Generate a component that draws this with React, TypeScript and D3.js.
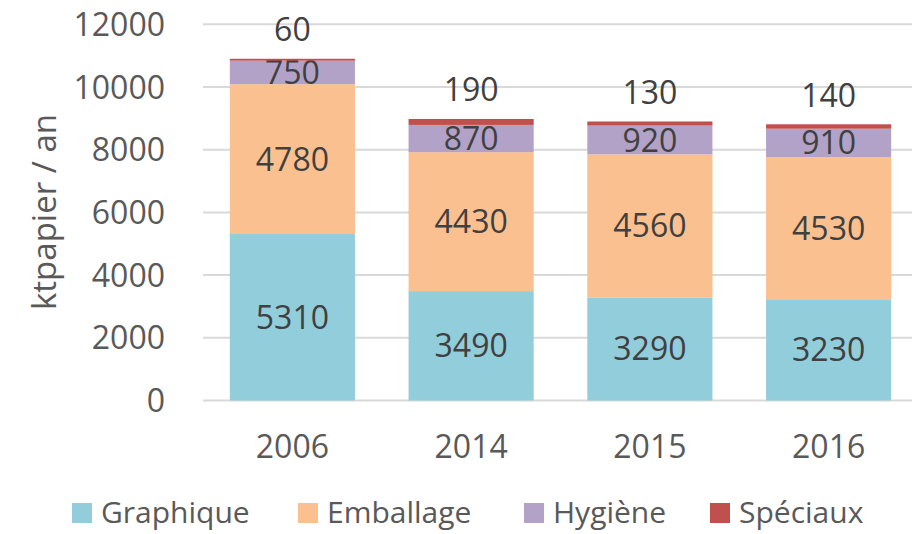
import React, { useRef, useEffect } from 'react';
import * as d3 from 'd3';

const years = ['2006', '2014', '2015', '2016'];
const graphique = [5310, 3490, 3290, 3230];
const emballage = [4780, 4430, 4560, 4530];
const hygiene = [750, 870, 920, 910];
const speciaux = [60, 190, 130, 140];
const seriesNames = ['Graphique', 'Emballage', 'Hygiène', 'Spéciaux'];
const seriesColors = ['#92CDDC', '#FAC090', '#B3A2C7', '#C0504D'];
const yTicks = [0, 2000, 4000, 6000, 8000, 10000, 12000];

const App = () => {
    const width = 912;
    const height = 534;
    const svgRef = useRef<SVGSVGElement>(null);

    useEffect(() => {
        const svg = d3.select(svgRef.current);
        svg.selectAll('*').remove();
        const font = '"Open Sans", sans-serif';

        const rows = years.map((y, i) => ({
            year: y,
            Graphique: graphique[i],
            Emballage: emballage[i],
            'Hygiène': hygiene[i],
            'Spéciaux': speciaux[i],
        }));
        const stacked = d3.stack<any>().keys(seriesNames)(rows);

        const x = d3.scaleBand().domain(years).range([203, 918]).paddingInner(0.3).paddingOuter(0.15);
        const y = d3.scaleLinear().domain([0, 12000]).range([400.5, 24.3]);

        // gridlines
        svg.append('g')
            .selectAll('line')
            .data(yTicks)
            .enter().append('line')
            .attr('x1', 203).attr('x2', 918)
            .attr('y1', d => y(d)).attr('y2', d => y(d))
            .attr('stroke', '#D9D9D9')
            .attr('stroke-width', 2);

        // y tick labels
        svg.append('g')
            .selectAll('text')
            .data(yTicks)
            .enter().append('text')
            .attr('x', 165)
            .attr('y', d => y(d))
            .attr('dy', '0.36em')
            .attr('text-anchor', 'end')
            .style('font-family', font)
            .style('font-size', '32px')
            .attr('fill', '#595959')
            .text(d => d);

        // y title
        svg.append('text')
            .attr('transform', `translate(44,212) rotate(-90)`)
            .attr('dy', '0.36em')
            .attr('text-anchor', 'middle')
            .style('font-family', font)
            .style('font-size', '33px')
            .attr('fill', '#595959')
            .text('ktpapier / an');

        // bars
        stacked.forEach((layer, si) => {
            const g = svg.append('g');
            g.selectAll('rect')
                .data(layer)
                .enter().append('rect')
                .attr('x', d => x(d.data.year)!)
                .attr('width', x.bandwidth())
                .attr('y', d => y(d[1]))
                .attr('height', d => y(d[0]) - y(d[1]))
                .attr('fill', seriesColors[si]);

            g.selectAll('text')
                .data(layer)
                .enter().append('text')
                .attr('x', d => x(d.data.year)! + x.bandwidth() / 2)
                .attr('y', d => si === 3 ? y(d[1]) - 29 : (y(d[0]) + y(d[1])) / 2)
                .attr('dy', '0.36em')
                .attr('text-anchor', 'middle')
                .style('font-family', font)
                .style('font-size', '32px')
                .attr('fill', '#404040')
                .text(d => d[1] - d[0]);
        });

        // category labels
        svg.append('g')
            .selectAll('text')
            .data(years)
            .enter().append('text')
            .attr('x', d => x(d)! + x.bandwidth() / 2)
            .attr('y', 446.5)
            .attr('dy', '0.36em')
            .attr('text-anchor', 'middle')
            .style('font-family', font)
            .style('font-size', '32px')
            .attr('fill', '#595959')
            .text(d => d);

        // legend
        const legendX = [72, 298, 524, 710];
        const lg = svg.append('g')
            .selectAll('g')
            .data(seriesNames)
            .enter().append('g')
            .attr('transform', (d, i) => `translate(${legendX[i]},512)`);
        lg.append('rect')
            .attr('x', 0).attr('y', -9)
            .attr('width', 20).attr('height', 20)
            .attr('fill', (d, i) => seriesColors[i]);
        lg.append('text')
            .attr('x', 29)
            .attr('dy', '0.36em')
            .style('font-family', font)
            .style('font-size', '30px')
            .attr('fill', '#595959')
            .text(d => d);
    }, []);

    return (
        <svg ref={svgRef} width={width} height={height}
            style={{ position: 'absolute', left: 0, top: 0, background: '#fff' }}></svg>
    );
};

export default App;
